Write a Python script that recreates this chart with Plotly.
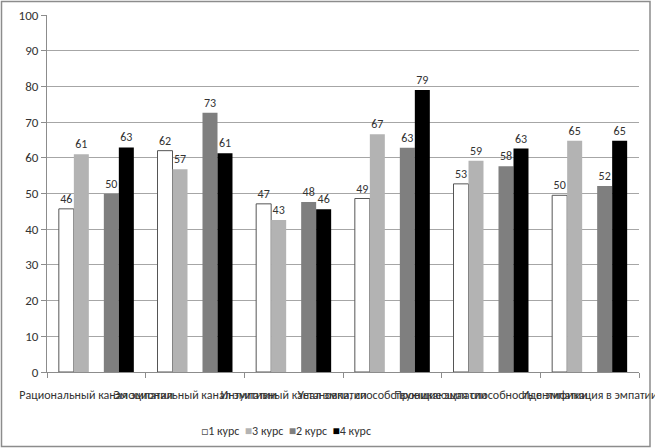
import plotly.graph_objects as go

categories = [
    "Рациональный канал эмпатии",
    "Эмоциональный канал эмпатии",
    "Интуитивный канал эмпатии",
    "Установки, способствующие эмпатии",
    "Проникающая способность в эмпатии",
    "Идентификация в эмпатии",
]
kurs1 = [45.7, 62.0, 47.1, 48.6, 52.7, 49.5]
kurs3 = [61.0, 56.8, 42.6, 66.6, 59.2, 64.8]
kurs2 = [49.9, 72.6, 47.6, 62.8, 57.6, 52.1]
kurs4 = [62.9, 61.3, 45.6, 79.0, 62.6, 64.8]
y_ticks = [0, 10, 20, 30, 40, 50, 60, 70, 80, 90, 100]

FONT = "Carlito, Roboto, sans-serif"

fig = go.Figure()
legend_items = []

def add_series(name, values, color, line_color=None, line_width=0, symbol="■"):
    fig.add_trace(go.Bar(
        x=categories, y=values, name=name,
        marker=dict(color=color, line=dict(color=line_color or color, width=line_width)),
        text=[f"{v:.0f}" for v in values],
        textposition="outside",
        textfont=dict(family=FONT, size=12, color="#333333"),
        cliponaxis=False, showlegend=False,
    ))
    sym_color = line_color if symbol == "□" else color
    legend_items.append(f"<span style='color:{sym_color}'>{symbol}</span>{name}")

add_series("1 курс", kurs1, "#ffffff", "#555555", 1, symbol="□")
add_series("3 курс", kurs3, "#b3b3b3")
# empty series in the middle of each group (leaves the gap seen in the original)
fig.add_trace(go.Bar(x=categories, y=[None] * len(categories), name="",
                     showlegend=False, hoverinfo="skip"))
add_series("2 курс", kurs2, "#7f7f7f")
add_series("4 курс", kurs4, "#000000")

L, R, T, B = 47, 16, 15, 76
W, H = 655, 448
pw, ph = W - L - R, H - T - B

# compact legend line like the original (Excel-style small squares)
fig.add_annotation(
    text="\u00a0\u00a0".join(legend_items),
    xref="paper", yref="paper", x=(286 - L) / pw, y=(H - B - 431) / ph,
    xanchor="center", yanchor="middle", showarrow=False,
    font=dict(family=FONT, size=12, color="#333333"),
)

fig.update_layout(
    width=W, height=H,
    margin=dict(l=L, r=R, t=T, b=B, autoexpand=False),
    barmode="group", bargap=0.24, bargroupgap=0,
    plot_bgcolor="white", paper_bgcolor="white",
    font=dict(family=FONT, size=12, color="#333333"),
    shapes=[dict(type="rect", xref="paper", yref="paper",
                 x0=(1.5 - L) / pw, x1=(650 - L) / pw,
                 y0=(H - B - 446.5) / ph, y1=(H - B - 1.5) / ph,
                 line=dict(color="#8c8c8c", width=1.5))],
)
fig.update_xaxes(
    tickangle=0, showline=True, linecolor="#8c8c8c", linewidth=1,
    ticks="outside", ticklen=5, tickcolor="#8c8c8c", tickson="boundaries",
    ticklabelstandoff=12,
    tickfont=dict(size=12, color="#333333"), showgrid=False,
)
fig.update_yaxes(
    range=[0, 100], tickvals=y_ticks, showline=True, linecolor="#8c8c8c",
    ticks="outside", ticklen=5, tickcolor="#8c8c8c",
    gridcolor="#a6a6a6", gridwidth=1, zeroline=False,
    tickfont=dict(size=13, color="#333333"),
)

fig.write_html("out.html", config={"displayModeBar": False},
               post_script="document.body.style.margin='0px';")
